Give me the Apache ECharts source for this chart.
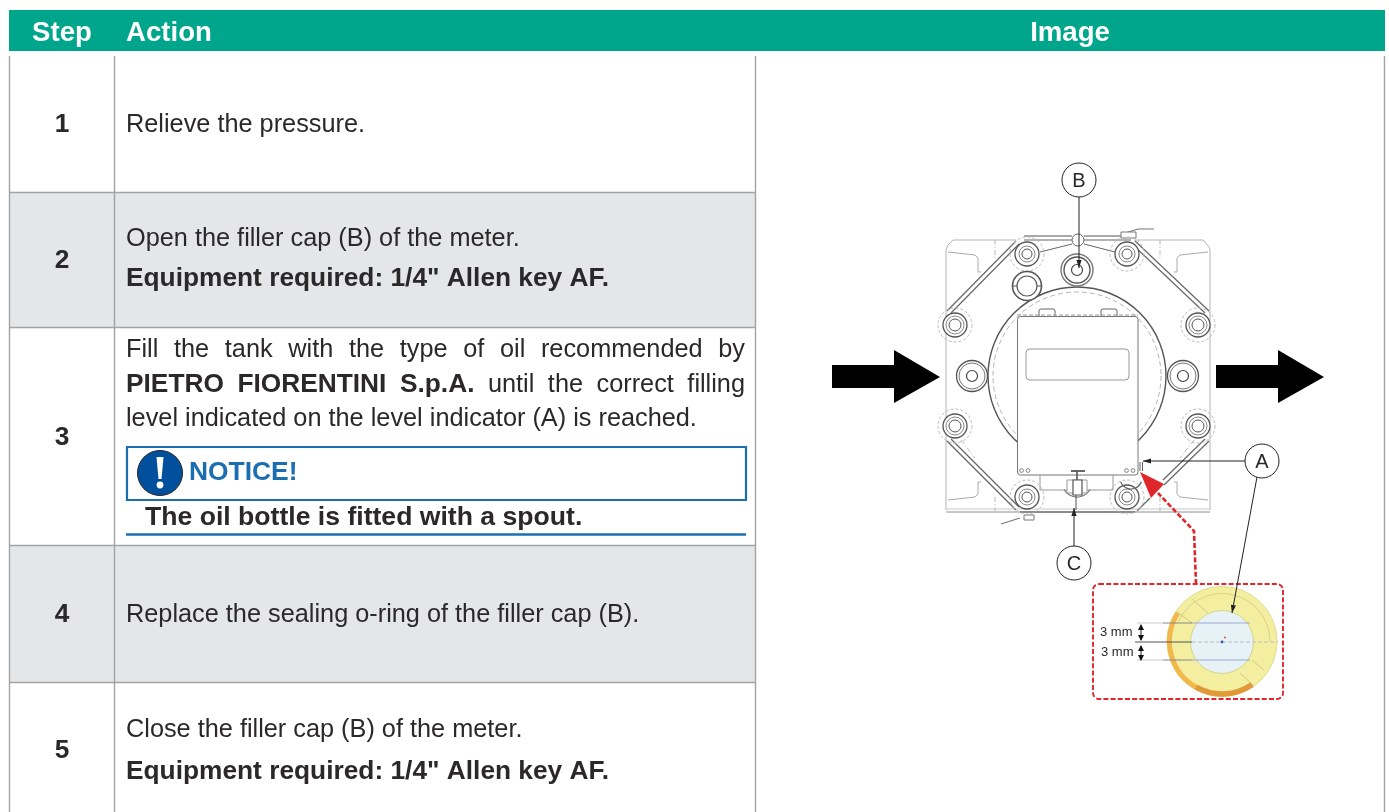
<!DOCTYPE html>
<html><head><meta charset="utf-8">
<style>html,body{margin:0;padding:0;background:#fff}#c{width:1389px;height:812px}</style>
<script src="https://cdn.jsdelivr.net/npm/echarts@6/dist/echarts.min.js"></script>
</head><body><div id="c"></div>
<script>
// ---- content ----
const headers = ['Step', 'Action', 'Image'];
const steps = ['1', '2', '3', '4', '5'];
const action1 = 'Relieve the pressure.';
const action2 = ['Open the filler cap (B) of the meter.', 'Equipment required: 1/4" Allen key AF.'];
const action3 = ['Fill the tank with the type of oil recommended by', 'PIETRO FIORENTINI S.p.A.', 'until the correct filling', 'level indicated on the level indicator (A) is reached.'];
const notice = ['NOTICE!', 'The oil bottle is fitted with a spout.'];
const action4 = 'Replace the sealing o-ring of the filler cap (B).';
const action5 = ['Close the filler cap (B) of the meter.', 'Equipment required: 1/4" Allen key AF.'];
const callouts = ['A', 'B', 'C'];
const dimension = '3 mm';

// ---- style ----
const F = '"Liberation Sans", Arimo, Helvetica, Arial, sans-serif';
const INK = '#2b2829', GREEN = '#00A68C', GREY = '#E5E6E8', RULE = '#A3A3A3', BLUE = '#1B6EB0', RED = '#E0262B', DRAW = '#8a8a8a';
const FS = 25.3, FB = 26.3;

const els = [];
let z = 1;
const rect = (x, y, w, h, fill, stroke, lw, r, dash) => els.push({type:'rect', z:z++, shape:{x,y,width:w,height:h,r:r||0}, style:{fill:fill||'none', stroke:stroke||'none', lineWidth:lw||1, lineDash:dash||null}});
const line = (pts, stroke, lw, dash) => els.push({type:'polyline', z:z++, shape:{points:pts}, style:{fill:'none', stroke:stroke||DRAW, lineWidth:lw||1, lineDash:dash||null}});
const circ = (cx, cy, r, fill, stroke, lw, dash) => els.push({type:'circle', z:z++, shape:{cx,cy,r}, style:{fill:fill||'none', stroke:stroke||'none', lineWidth:lw||1, lineDash:dash||null}});
const poly = (pts, fill) => els.push({type:'polygon', z:z++, shape:{points:pts}, style:{fill}});
const arc = (cx, cy, r, a0, a1, stroke, lw) => els.push({type:'arc', z:z++, shape:{cx,cy,r,startAngle:a0*Math.PI/180,endAngle:a1*Math.PI/180,clockwise:true}, style:{fill:'none', stroke, lineWidth:lw||1}});
const text = (t, x, y, o) => { o=o||{}; const size=o.size||(o.bold?FB:FS); els.push({type:'text', z:z++, x, y:y+1, style:{text:t, fill:o.fill||INK, font:(o.bold?'bold ':'')+size+'px '+F, textAlign:o.align||'left', textVerticalAlign:'middle'}}); };

const ctx = document.createElement('canvas').getContext('2d');
const measure = (t, font) => { ctx.font = font; return ctx.measureText(t).width; };
function justify(runs, x0, x1, y) {
  const words = [];
  runs.forEach(r => r.t.split(' ').forEach(w => words.push({w, bold:r.bold})));
  const ws = words.map(o => measure(o.w, (o.bold?'bold '+FB:FS)+'px '+F));
  const total = ws.reduce((a,b)=>a+b,0);
  const gap = (x1-x0-total)/(words.length-1);
  let x = x0;
  words.forEach((o,i)=>{ text(o.w, x, y, {bold:o.bold}); x += ws[i]+gap; });
}

// ---- table ----
const rowY = [56, 192, 327, 545, 682, 812];
rect(9, 10, 1376, 41, GREEN);
text(headers[0], 62, 32, {bold:true, size:27.6, fill:'#fff', align:'center'});
text(headers[1], 126, 32, {bold:true, size:27.6, fill:'#fff'});
text(headers[2], 1070, 32, {bold:true, size:27.6, fill:'#fff', align:'center'});
rect(9, rowY[1], 746, rowY[2]-rowY[1], GREY);
rect(9, rowY[3], 746, rowY[4]-rowY[3], GREY);
[9.5, 114.5, 755.5, 1384.5].forEach(x => line([[x,56],[x,812]], RULE, 1.4));
rowY.slice(1,5).forEach(y => line([[9,y+.5],[755,y+.5]], RULE, 1.4));

const stepY = [124, 260, 437, 614, 750];
steps.forEach((s,i)=>text(s, 62, stepY[i], {bold:true, align:'center'}));
text(action1, 126, 124);
text(action2[0], 126, 238);
text(action2[1], 126, 278, {bold:true});
justify([{t:action3[0]}], 126, 745, 349);
justify([{t:action3[1],bold:true},{t:action3[2]}], 126, 745, 384);
text(action3[3], 126, 418);
rect(127, 447, 619, 53, '#fff', BLUE, 2.2);
circ(160, 473, 22.5, '#00509E', '#222', 1);
poly([[156.5,457],[163.5,457],[161.5,479],[158.5,479]], '#fff');
circ(160, 485, 3.4, '#fff');
text(notice[0], 189, 472, {bold:true, size:26.4, fill:BLUE});
text(notice[1], 145, 517, {bold:true, size:26.6});
line([[126,534.5],[746,534.5]], BLUE, 2.4);
text(action4, 126, 614);
text(action5[0], 126, 729);
text(action5[1], 126, 771, {bold:true});

// ---- meter drawing ----
// body outline
line([[1016,240],[953,240],[948,245],[946,250],[946,510]], '#b5b5b5', 1);
line([[1134,240],[1203,240],[1209,247],[1210,250],[1210,510]], '#b5b5b5', 1);
line([[946,512],[1210,512]], '#b5b5b5', 1.4);
line([[946,509],[1210,509]], '#c8c8c8', 1);
// corner pockets
[[[948,252],[975,255],[978,258],[978,272],[981,272]],
 [[1208,252],[1180,255],[1177,258],[1177,272],[1174,272]],
 [[948,500],[975,497],[978,494],[978,482],[981,482]],
 [[1208,500],[1180,497],[1177,494],[1177,482],[1174,482]]].forEach(p=>line(p,'#aaa',1));
[[[995,240],[995,258]],[[1160,240],[1160,258]],[[995,512],[995,495]],[[1160,512],[1160,495]],
 [[961,440],[975,458]],[[1194,440],[1180,458]]].forEach(p=>line(p,'#bbb',1,[5,2,1,2]));
// octagon flange, double line
[[[1016,241],[947,311]],[[1019,244],[951,313]],[[1135,241],[1209,311]],[[1132,244],[1205,313]],
 [[947,441],[1016,510]],[[951,439],[1019,507]],[[1209,441],[1164,485]],[[1205,439],[1163,480]],[[1150,498],[1137,511]]]
 .forEach(p=>line(p,'#666',1.2));
// top bar
line([[1024,236],[1072,236]],'#555',1.2); line([[1084,236],[1131,236]],'#555',1.2);
line([[1024,240],[1072,240]],'#666',1.2); line([[1084,240],[1131,240]],'#666',1.2);
line([[1040,252],[1072,244]],'#666',1); line([[1115,252],[1084,244]],'#666',1);
circ(1078,240,6,'#fff','#666',1);
line([[1122,234],[1138,229],[1154,229]],'#777',1.2);
rect(1121,232,15,6,'#fff','#777',1);
line([[1001,524],[1020,518]],'#777',1.2); line([[1020,512],[1135,512]],'#777',1.3);
rect(1024,515,10,5,'#fff','#777',1);
// big round body
circ(1077,376,89,'#fff','#555',1.4);
circ(1077,376,84,'none','#b5b5b5',1,[5,3]);
// bolts
const bolts = [[955,325,9,12],[1198,325,9,12],[955,426,9,12],[1198,426,9,12],[1027,254,8,12],[1127,254,8,12],[1027,497,8,12],[1127,497,8,12]];
bolts.forEach(b=>{
  circ(b[0],b[1],b[3]+5,'none','#bbb',1,[3,2]);
  circ(b[0],b[1],b[3],'#fff','#555',1.3);
  circ(b[0],b[1],b[2],'none','#888',1);
  circ(b[0],b[1],b[2]-3,'none','#555',1);
});
[[972,376],[1183,376]].forEach(b=>{
  circ(b[0],b[1],15.5,'#fff','#555',1.3); circ(b[0],b[1],13,'none','#777',1); circ(b[0],b[1],5.5,'none','#444',1.2);
});
circ(1077,270,16,'#fff','#777',1.4); circ(1077,270,13,'none','#555',1.4); circ(1077,270,5.5,'none','#444',1.2);
circ(1027,286,14.5,'#fff','#555',1.6); circ(1027,286,10,'none','#555',1.2);
line([[1013,286],[1017,286]],'#555',1); line([[1037,286],[1041,286]],'#555',1);
// plate
rect(1039,309,16,14,'#fff','#666',1,2); rect(1101,309,16,14,'#fff','#666',1,2);
line([[1017,315],[1138,315]],'#999',1,[4,2]);
rect(1017.5,316.5,120.5,158.5,'#fff','#777',1,3);
rect(1026,349,103,31,'#fff','#999',1,4);
[[1021.5,470.5],[1028,470.5],[1126.5,470.5],[1133,470.5]].forEach(p=>circ(p[0],p[1],1.9,'#fff','#777',.9));
// level indicator & lower valve
line([[1140,462],[1140,471]],'#666',1); line([[1142.5,462],[1142.5,471]],'#666',1);
line([[1040,475],[1040,490],[1113,490],[1113,475]],'#999',1);
arc(1131,478,11,20,160,'#666',1.2);
arc(1077,482,15,30,150,'#777',1.2);
rect(1067,480,20,13,'#fff','#999',1);
line([[1071,471],[1085,471]],'#555',1.8); line([[1077,471],[1077,480]],'#555',1.6);
rect(1073,480,9,15,'#fff','#555',1.2);
line([[1076,495],[1076,510]],'#555',1);
// flow arrows
poly([[832,365],[894,365],[894,350],[940,377],[894,403],[894,388],[832,388]], '#000');
poly([[1216,365],[1278,365],[1278,350],[1324,377],[1278,403],[1278,388],[1216,388]], '#000');

// ---- level detail ----
const dash = [5,2.2];
line([[1196,584],[1194,531],[1158,493]],RED,2.6,dash);
poly([[1140,472],[1164,484],[1151,498]],RED);
rect(1093,584,190,115,'#fff',RED,1.9,6,dash);
circ(1222,641.5,55,'#F3EEA0','#e4dc8c',1);
arc(1222,641.5,52.5,120,213,'#F2B84B',5);
arc(1222,641.5,52.5,55,120,'#E29A38',5.5);
circ(1222,642,31.5,'#E6F2F6','#d5d68a',1);
[[[1192,599],[1208,613]],[[1177,612],[1192,623]],[[1240,673],[1253,685]],[[1252,660],[1264,670]]].forEach(p=>line(p,'#cfcb85',1));
arc(1222,641.5,48,205,360,'#d8d488',1);
line([[1137,623],[1163,623]],'#ccc',1); line([[1163,623],[1192,623]],'#888',1); line([[1192,623],[1250,623]],'#9fa8d6',1);
line([[1135,642],[1192,642]],'#555',1); line([[1192,642],[1278,642]],'#b8c0c4',1,[4,2]);
line([[1137,660],[1163,660]],'#ccc',1); line([[1163,660],[1192,660]],'#888',1); line([[1192,660],[1250,660]],'#9fa8d6',1);
circ(1222,642,1.4,'#3b57b0'); circ(1225,637.5,1,'#e2504f');
text(dimension,1100,631,{size:13}); text(dimension,1101,651,{size:13});
[[625,640],[646,660]].forEach(v=>{
  line([[1141,v[0]],[1141,v[1]]],'#222',1);
  poly([[1141,v[0]-1],[1138,v[0]+5],[1144,v[0]+5]],'#111');
  poly([[1141,v[1]+1],[1138,v[1]-5],[1144,v[1]-5]],'#111');
});

// ---- callouts ----
const head = (x,y,dx,dy) => { const s=Math.hypot(dx,dy), ux=dx/s, uy=dy/s, L=8, W=2.6;
  poly([[x,y],[x-ux*L-uy*W,y-uy*L+ux*W],[x-ux*L+uy*W,y-uy*L-ux*W]], '#222'); };
line([[1079,197],[1079,268]],'#222',1); head(1079,268,0,1);
line([[1245,461],[1143,461]],'#222',1); head(1143,461,-1,0);
line([[1257,477],[1232,613]],'#222',1); head(1232,613,-25,136);
line([[1074,546],[1074,508]],'#222',1); head(1074,508,0,-1);
[[1262,461,0],[1079,180,1],[1074,563,2]].forEach(c=>{
  circ(c[0],c[1],17,'#fff','#222',1);
  text(callouts[c[2]],c[0],c[1],{size:20,align:'center'});
});

const chart = echarts.init(document.getElementById('c'), null, {renderer:'canvas'});
chart.setOption({animation:false, backgroundColor:'#fff', graphic:{elements:els}});
</script></body></html>
